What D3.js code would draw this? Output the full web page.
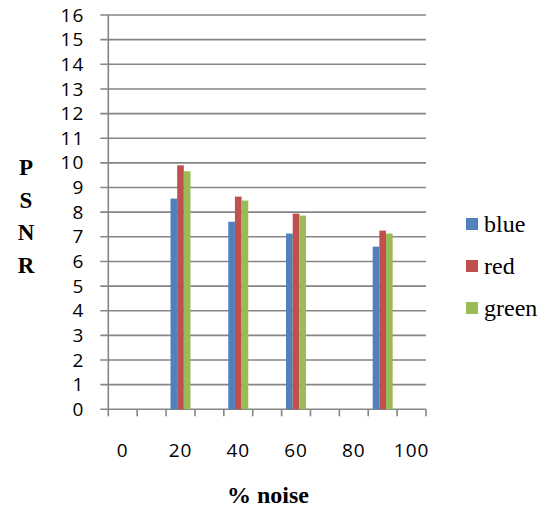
<!DOCTYPE html>
<html>
<head>
<meta charset="utf-8">
<script src="https://cdn.jsdelivr.net/npm/d3@7/dist/d3.min.js"></script>
<style>
  html, body { margin: 0; padding: 0; background: #fff; }
  svg { display: block; }
</style>
</head>
<body>
<script>
// Noise levels (%) on the category axis; only every other one is labelled
const noiseLevels = [0, 10, 20, 30, 40, 50, 60, 70, 80, 90, 100];
const noiseLabels = [0, 20, 40, 60, 80, 100];
const seriesNames = ["blue", "red", "green"];
const seriesColors = ["#4F81BD", "#C0504D", "#9BBB59"];
// PSNR per colour channel at the measured noise levels
const measuredAt = [20, 40, 60, 90];
const bluePSNR  = [8.55, 7.61, 7.13, 6.60];
const redPSNR   = [9.90, 8.63, 7.94, 7.25];
const greenPSNR = [9.66, 8.47, 7.86, 7.13];
const yTicks = d3.range(0, 17, 1);

const W = 550, H = 509;
const plot = { left: 108.3, right: 426, top: 15, bottom: 409.3 };

const svg = d3.select("body").append("svg")
  .attr("width", W).attr("height", H);

const x = d3.scaleBand().domain(noiseLevels).range([plot.left, plot.right]).padding(0);
const groupWidth = 20;
const xs = d3.scaleBand().domain(seriesNames).range([0, groupWidth]).padding(0);
const y = d3.scaleLinear().domain([0, 16]).range([plot.bottom, plot.top]);

const gridColor = "#858585";
const gridWidth = 1.6;

// Horizontal gridlines (they also carry the left tick marks)
svg.append("g")
  .selectAll("line")
  .data(yTicks)
  .join("line")
  .attr("x1", plot.left - 8).attr("x2", plot.right)
  .attr("y1", d => y(d)).attr("y2", d => y(d))
  .attr("stroke", gridColor).attr("stroke-width", gridWidth);

// Y axis labels
const yAxis = svg.append("g")
  .attr("transform", `translate(${plot.left},0)`)
  .call(d3.axisLeft(y).tickValues(yTicks).tickFormat(d3.format("d")).tickSize(8).tickPadding(16));
yAxis.select(".domain").remove();
yAxis.selectAll(".tick line").remove();
yAxis.selectAll("text")
  .attr("font-family", "'Open Sans', sans-serif")
  .attr("font-size", 19)
  .attr("letter-spacing", 1)
  .attr("fill", "#000");

// Vertical axis line
svg.append("line")
  .attr("x1", plot.left).attr("x2", plot.left)
  .attr("y1", plot.top).attr("y2", plot.bottom)
  .attr("stroke", gridColor).attr("stroke-width", gridWidth);

// Category boundary tick marks on the bottom axis
const boundaries = noiseLevels.map(d => x(d)).concat([plot.right]);
svg.append("g")
  .selectAll("line")
  .data(boundaries)
  .join("line")
  .attr("x1", d => d).attr("x2", d => d)
  .attr("y1", plot.bottom).attr("y2", plot.bottom + 7)
  .attr("stroke", gridColor).attr("stroke-width", gridWidth);

// X axis labels
const xAxis = svg.append("g")
  .attr("transform", `translate(0,${plot.bottom})`)
  .call(d3.axisBottom(x).tickValues(noiseLabels).tickSize(0).tickPadding(34));
xAxis.select(".domain").remove();
xAxis.selectAll("text")
  .attr("font-family", "'Open Sans', sans-serif")
  .attr("font-size", 19)
  .attr("letter-spacing", 1)
  .attr("fill", "#000");

// Bars
const seriesValues = [bluePSNR, redPSNR, greenPSNR];
const barData = [];
measuredAt.forEach((lvl, i) => {
  seriesNames.forEach((s, j) => {
    barData.push({ level: lvl, series: s, value: seriesValues[j][i], color: seriesColors[j] });
  });
});
svg.append("g")
  .selectAll("rect")
  .data(barData)
  .join("rect")
  .attr("x", d => x(d.level) + (x.bandwidth() - groupWidth) / 2 + xs(d.series))
  .attr("y", d => y(d.value))
  .attr("width", xs.bandwidth())
  .attr("height", d => y(0) - y(d.value))
  .attr("fill", d => d.color);

// Y axis title, one letter per line
const yTitle = "PSNR".split("");
svg.append("g")
  .selectAll("text")
  .data(yTitle)
  .join("text")
  .attr("x", 26)
  .attr("y", (d, i) => 175 + i * 32.5)
  .attr("text-anchor", "middle")
  .attr("font-family", "'Liberation Serif', 'Times New Roman', serif")
  .attr("font-weight", "bold")
  .attr("font-size", 23)
  .text(d => d);

// X axis title
svg.append("text")
  .attr("x", 268)
  .attr("y", 503)
  .attr("text-anchor", "middle")
  .attr("font-family", "'Liberation Serif', 'Times New Roman', serif")
  .attr("font-weight", "bold")
  .attr("font-size", 24)
  .text("% noise");

// Legend
const legend = svg.append("g")
  .selectAll("g")
  .data(seriesNames)
  .join("g")
  .attr("transform", (d, i) => `translate(466,${218 + i * 42})`);
legend.append("rect")
  .attr("width", 12).attr("height", 12)
  .attr("fill", (d, i) => seriesColors[i]);
legend.append("text")
  .attr("x", 18).attr("y", 14)
  .attr("font-family", "'Liberation Serif', 'Times New Roman', serif")
  .attr("font-size", 24)
  .text(d => d);
</script>
</body>
</html>
